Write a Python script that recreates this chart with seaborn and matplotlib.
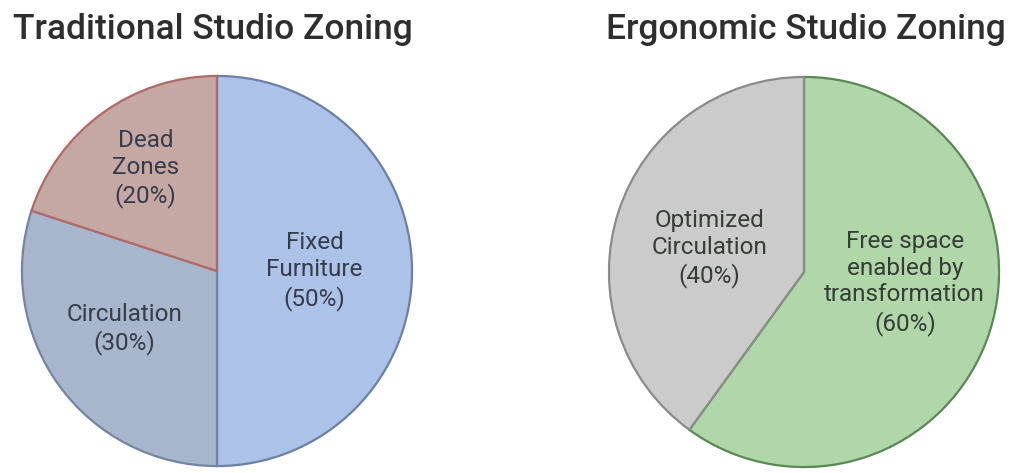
import matplotlib
matplotlib.use("Agg")
import matplotlib.pyplot as plt
import seaborn as sns
import numpy as np

sns.set_theme(style="white")
plt.rcParams['font.family'] = ['Roboto', 'DejaVu Sans']

# Data
trad_labels = ["Fixed\nFurniture", "Circulation", "Dead\nZones"]
trad_values = [50, 30, 20]
ergo_labels = ["Free space\nenabled by\ntransformation", "Optimized\nCirculation"]
ergo_values = [60, 40]
titles = ["Traditional Studio Zoning", "Ergonomic Studio Zoning"]

# Styles
trad_fill = ["#adc2e8", "#a8b6cd", "#c5a7a4"]
trad_edge = ["#6a80a6", "#75859f", "#b06a67"]
ergo_fill = ["#b1d6aa", "#cbcbcb"]
ergo_edge = ["#5a8853", "#8a8a8a"]
trad_dist = [0.5, 0.56, 0.64]
trad_shift = [0, -4, -1]
ergo_dist = [0.52, 0.5]
ergo_shift = [12, 4]

W, H = 1017, 473
fig = plt.figure(figsize=(W / 100, H / 100), dpi=100)

def make_ax(cx, cy, r):
    return fig.add_axes([(cx - r) / W, (H - cy - r) / H, 2 * r / W, 2 * r / H])

def draw(ax, values, labels, fills, edges, dists, shifts, txtcolor):
    wedges, _ = ax.pie(values, colors=fills, startangle=90, counterclock=False,
                       wedgeprops=dict(linewidth=1.6))
    for w, e, lab, d, s in zip(wedges, edges, labels, dists, shifts):
        w.set_edgecolor(e)
        ang = np.deg2rad((w.theta1 + w.theta2) / 2 + s)
        pct = 100 * (w.theta2 - w.theta1) / 360
        ax.text(d * np.cos(ang), d * np.sin(ang), f"{lab}\n({pct:.0f}%)",
                ha="center", va="center", fontsize=17.5, color=txtcolor,
                linespacing=1.22)
    ax.set_xlim(-1.01, 1.01)
    ax.set_ylim(-1.01, 1.01)
    ax.set_aspect("equal")
    ax.axis("off")

ax1 = make_ax(217, 271, 197)
draw(ax1, trad_values, trad_labels, trad_fill, trad_edge, trad_dist, trad_shift, "#363c4a")
ax2 = make_ax(804, 272, 197)
draw(ax2, ergo_values, ergo_labels, ergo_fill, ergo_edge, ergo_dist, ergo_shift, "#363c36")

fig.text(213 / W, 1 - 30 / H, titles[0], ha="center", va="center",
         fontsize=25.5, color="#2e2e2e", fontweight="medium")
fig.text(806 / W, 1 - 30 / H, titles[1], ha="center", va="center",
         fontsize=25.5, color="#2e2e2e", fontweight="medium")

fig.savefig("out.png", dpi=100, facecolor="white")
